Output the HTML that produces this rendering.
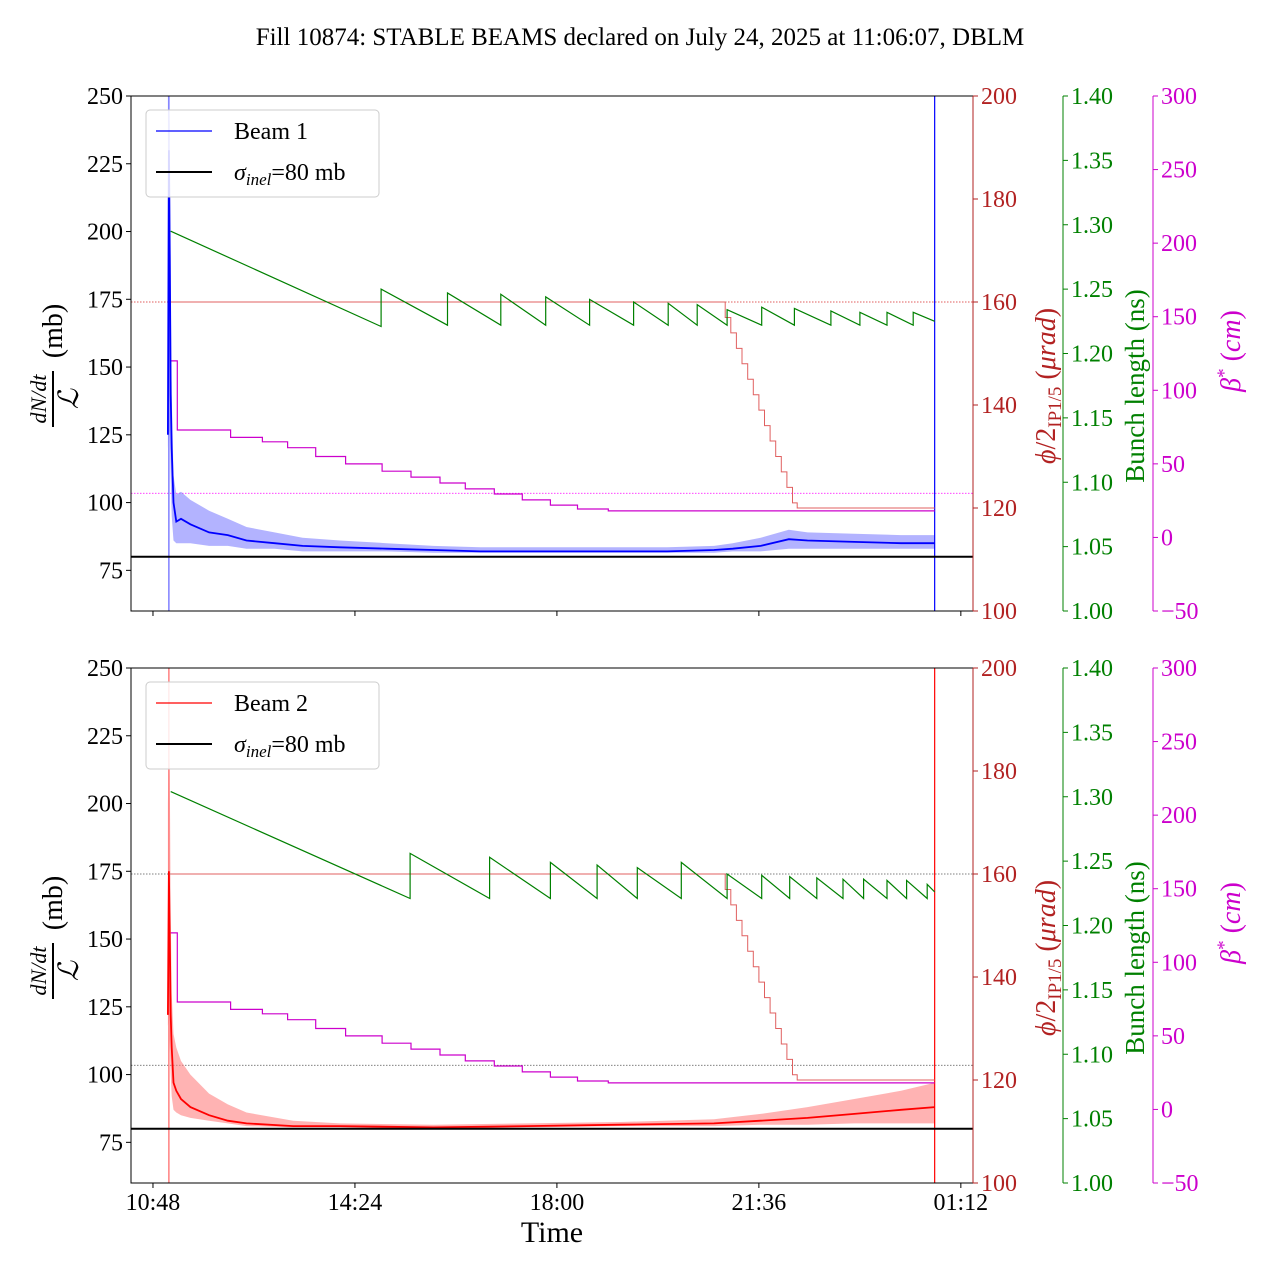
<!DOCTYPE html>
<html><head><meta charset="utf-8">
<style>
html,body{margin:0;padding:0;background:#fff;}
svg text{font-family:"Liberation Serif",serif;}
</style></head>
<body>
<svg id="chart" width="1280" height="1280" viewBox="0 0 1280 1280" xmlns="http://www.w3.org/2000/svg">
<text x="640" y="45" font-size="25" text-anchor="middle">Fill 10874: STABLE BEAMS declared on July 24, 2025 at 11:06:07, DBLM</text>
</svg>
<script>
// time in minutes since 10:48
const xTickLabels = ["10:48","14:24","18:00","21:36","01:12"];
const xTickMins = [0,216,432,648,864];
const leftTicks = [75,100,125,150,175,200,225,250];
const redTicks = [100,120,140,160,180,200];
const greenTicks = [1.00,1.05,1.10,1.15,1.20,1.25,1.30,1.35,1.40];
const magTicks = [-50,0,50,100,150,200,250,300];

// beam 1 losses: [t, mean, lo, hi]
const loss1 = [[16,125,120,250],[17,230,130,250],[18,190,125,240],[19,140,110,180],[20,120,95,140],[22,100,86,110],[25,93,85,103],[30,94,85,104],[40,92,85,101],[60,89,84,97],[80,88,84,94],[100,86,83,91],[130,85,83,89],[160,84,82,87],[200,83.5,82,86],[250,83,82,85],[300,82.5,81.5,84],[350,82,81.5,83.5],[400,82,81.5,83.5],[450,82,81.5,83.5],[500,82,81.5,83.5],[550,82,81.5,83.5],[600,82.5,81.5,84],[620,83,82,85],[650,84,82,87],[680,86.5,83,90],[700,86,83,89],[750,85.5,83,88.5],[800,85,83,88],[836,85,83,88]];
// beam 2 losses
const loss2 = [[16,122,118,200],[17,175,120,230],[18,150,110,210],[19,122,100,160],[20,110,92,130],[22,97,87,115],[25,94,86,110],[30,91,85,105],[40,88,84,100],[60,85,83,93],[80,83,82,89],[100,82,81,86],[150,81,80.5,83],[200,81,80.5,82],[300,80.5,80,81.5],[400,81,80.5,82],[500,81.5,81,82.5],[600,82,81,83.5],[650,83,81.5,85.5],[700,84,81.5,88],[750,85.5,82,91],[800,87,82,94],[836,88,82,97]];

// bunch length: [t, value] sawtooth points
const bl1 = [[19,1.295],[244,1.221],[244,1.250],[315,1.222],[315,1.247],[372,1.222],[372,1.246],[420,1.222],[420,1.244],[467,1.222],[467,1.242],[514,1.222],[514,1.240],[551,1.222],[551,1.239],[582,1.222],[582,1.238],[614,1.222],[614,1.234],[651,1.222],[651,1.236],[686,1.222],[686,1.235],[725,1.222],[725,1.233],[756,1.222],[756,1.232],[785,1.222],[785,1.232],[813,1.222],[813,1.232],[836,1.225]];
const bl2 = [[19,1.304],[275,1.221],[275,1.256],[360,1.221],[360,1.253],[425,1.221],[425,1.249],[475,1.221],[475,1.247],[518,1.221],[518,1.245],[565,1.221],[565,1.249],[614,1.221],[614,1.240],[651,1.221],[651,1.239],[681,1.221],[681,1.238],[710,1.221],[710,1.237],[738,1.221],[738,1.236],[760,1.221],[760,1.236],[785,1.221],[785,1.235],[806,1.221],[806,1.235],[828,1.221],[828,1.232],[836,1.226]];

// crossing angle steps [t, urad]
const xang = [[19,160],[606,160],[612,157],[618,154],[624,151],[630,148],[636,145],[642,142],[648,139],[654,136],[660,133],[666,130],[672,127],[678,124],[684,121],[689,120],[836,120]];
// beta* steps [t, cm]
const betaStar = [[19,120],[26,73],[83,68],[117,65],[144,61],[174,55],[206,50],[245,45],[276,41],[307,37],[334,33],[365,29.5],[395,25.5],[425,22],[454,19.3],[487,18],[836,18]];

const svg = document.getElementById('chart');
const NS = 'http://www.w3.org/2000/svg';
const X0 = 131, X1 = 973, W = X1 - X0, H = 515;
const TMIN = -23.5, TMAX = 877;
function xs(t){ return X0 + (t - TMIN) / (TMAX - TMIN) * W; }
function mk(tag, attrs, parent){
  const e = document.createElementNS(NS, tag);
  for (const k in attrs) e.setAttribute(k, attrs[k]);
  (parent || svg).appendChild(e);
  return e;
}
function stepPath(arr, ys){
  let s = '';
  arr.forEach((p, i) => { s += i ? 'H' + xs(p[0]).toFixed(1) + 'V' + ys(p[1]).toFixed(1) : 'M' + xs(p[0]).toFixed(1) + ',' + ys(p[1]).toFixed(1); });
  return s;
}

function panel(oy, idx){
  const g = mk('g', {});
  
  
  const yl = v => oy + H - (v - 60) / 190 * H;
  const yr = v => oy + H - (v - 100) / 100 * H;
  const yg = v => oy + H - (v - 1.0) / 0.4 * H;
  const ym = v => oy + H - (v + 50) / 350 * H;
  const loss = idx === 1 ? loss1 : loss2;
  const bl = idx === 1 ? bl1 : bl2;
  const col = idx === 1 ? '#0000ff' : '#ff0000';
  const light = idx === 1 ? '#8080ff' : '#ff8080';

  const clip = mk('clipPath', {id: 'clip' + idx}, g);
  mk('rect', {x: X0, y: oy, width: W, height: H}, clip);
  const pg = mk('g', {'clip-path': 'url(#clip' + idx + ')'}, g);

  const d1 = mk('line', {x1: X0, x2: X1, y1: yr(160), y2: yr(160), stroke: idx === 1 ? '#d62728' : '#555', 'stroke-width': 0.8, 'stroke-dasharray': '1.5,1.5'}, pg);
  
  
  const d2 = mk('line', {x1: X0, x2: X1, y1: ym(30), y2: ym(30), stroke: idx === 1 ? '#ff00ff' : '#555', 'stroke-width': 0.8, 'stroke-dasharray': '1.5,1.5'}, pg);
  
  

  let bp = loss.map((p, i) => (i ? 'L' : 'M') + xs(p[0]).toFixed(1) + ',' + yl(p[3]).toFixed(1)).join('');
  bp += loss.slice().reverse().map(p => 'L' + xs(p[0]).toFixed(1) + ',' + yl(p[2]).toFixed(1)).join('') + 'Z';
  const band = mk('path', {d: bp, fill: light, 'fill-opacity': 0.6, stroke: 'none'}, pg);
  
  

  const v1 = mk('line', {x1: xs(17), x2: xs(17), y1: oy, y2: oy + H, stroke: light, 'stroke-width': 1.5}, pg);
  
  
  const v2 = mk('line', {x1: xs(836), x2: xs(836), y1: oy, y2: oy + H, stroke: col, 'stroke-width': 1.2}, pg);
  
  

  const xa = mk('path', {d: stepPath(xang, yr), fill: 'none', stroke: '#e06060', 'stroke-width': 1}, pg);
  
  
  const bsl = mk('path', {d: stepPath(betaStar, ym), fill: 'none', stroke: '#cc00cc', 'stroke-width': 1.2}, pg);
  
  
  const bll = mk('path', {d: 'M' + bl.map(p => xs(p[0]).toFixed(1) + ',' + yg(p[1]).toFixed(1)).join('L'), fill: 'none', stroke: '#008000', 'stroke-width': 1.2}, pg);
  
  
  const lm = mk('path', {d: 'M' + loss.map(p => xs(p[0]).toFixed(1) + ',' + yl(p[1]).toFixed(1)).join('L'), fill: 'none', stroke: col, 'stroke-width': 1.8}, pg);
  
  
  const si = mk('line', {x1: X0, x2: X1, y1: yl(80), y2: yl(80), stroke: '#000', 'stroke-width': 2}, pg);
  
  

  mk('rect', {x: X0, y: oy, width: W, height: H, fill: 'none', stroke: '#000', 'stroke-width': 1}, g);

  leftTicks.forEach(v => {
    const y = yl(v);
    mk('line', {x1: X0 - 5, x2: X0, y1: y, y2: y, stroke: '#000'}, g);
    const t = mk('text', {x: X0 - 8, y: y + 8, 'font-size': 24, 'text-anchor': 'end'}, g);
    t.textContent = v;
    
    
  });
  xTickMins.forEach((m, i) => {
    const x = xs(m);
    mk('line', {x1: x, x2: x, y1: oy + H, y2: oy + H + 5, stroke: '#000'}, g);
    if (idx === 2) {
      const t = mk('text', {x: x, y: oy + H + 27, 'font-size': 24, 'text-anchor': 'middle'}, g);
      t.textContent = xTickLabels[i];
      
      
    }
  });
  function rAxis(sx, ticks, scale, color, fmt, name){
    mk('line', {x1: sx, x2: sx, y1: oy, y2: oy + H, stroke: color, 'stroke-width': 1}, g);
    ticks.forEach(v => {
      const y = scale(v);
      mk('line', {x1: sx, x2: sx + 5, y1: y, y2: y, stroke: color}, g);
      const t = mk('text', {x: sx + 8, y: y + 8, 'font-size': 24, fill: color}, g);
      t.textContent = fmt(v);
      
      
    });
  }
  rAxis(973, redTicks, yr, '#b22222', v => v, 'crossing-angle');
  rAxis(1063, greenTicks, yg, '#008000', v => v.toFixed(2), 'bunch-length');
  rAxis(1153, magTicks, ym, '#cc00cc', v => v < 0 ? '\u2212' + (-v) : v, 'beta-star');

  const lt = mk('g', {transform: 'translate(60,' + (oy + 265) + ') rotate(-90)'}, g);
  
  
  mk('text', {x: -38, y: -14, 'font-size': 22, 'font-style': 'italic', 'text-anchor': 'middle'}, lt).textContent = 'dN/dt';
  mk('line', {x1: -66, x2: -10, y1: -7, y2: -7, stroke: '#000', 'stroke-width': 2}, lt);
  mk('text', {x: -38, y: 18, 'font-size': 28, 'font-style': 'italic', 'text-anchor': 'middle'}, lt).textContent = 'ℒ';
  mk('text', {x: 30, y: 2, 'font-size': 28, 'text-anchor': 'middle'}, lt).textContent = '(mb)';

  const rt = mk('text', {transform: 'translate(1055,' + (oy + 290) + ') rotate(-90)', 'font-size': 28, fill: '#b22222', 'text-anchor': 'middle'}, g);
  rt.innerHTML = '<tspan font-style="italic">ϕ</tspan>/2<tspan font-size="19" dy="6">IP1/5</tspan><tspan dy="-6"> (</tspan><tspan font-style="italic">μrad</tspan>)';
  
  
  const gt = mk('text', {transform: 'translate(1144,' + (oy + 290) + ') rotate(-90)', 'font-size': 27, fill: '#008000', 'text-anchor': 'middle'}, g);
  gt.textContent = 'Bunch length (ns)';
  
  
  const mt = mk('text', {transform: 'translate(1240,' + (oy + 255) + ') rotate(-90)', 'font-size': 28, fill: '#cc00cc', 'text-anchor': 'middle'}, g);
  mt.innerHTML = '<tspan font-style="italic">β</tspan><tspan font-size="19" dy="-10">*</tspan><tspan dy="10"> (</tspan><tspan font-style="italic">cm</tspan>)';
  
  

  const lg = mk('g', {}, g);
  
  
  mk('rect', {x: 146, y: oy + 14, width: 233, height: 87, rx: 4, fill: '#fff', 'fill-opacity': 0.85, stroke: '#ccc'}, lg);
  mk('line', {x1: 156, x2: 212, y1: oy + 35, y2: oy + 35, stroke: col, 'stroke-width': 1.2}, lg);
  const l1 = mk('text', {x: 234, y: oy + 43, 'font-size': 24}, lg);
  l1.textContent = 'Beam ' + idx;
  
  
  mk('line', {x1: 156, x2: 212, y1: oy + 76, y2: oy + 76, stroke: '#000', 'stroke-width': 2}, lg);
  const l2 = mk('text', {x: 234, y: oy + 84, 'font-size': 24}, lg);
  l2.innerHTML = '<tspan font-style="italic">σ</tspan><tspan font-style="italic" font-size="17" dy="5">inel</tspan><tspan dy="-5">=80 mb</tspan>';
  
  
}
panel(96, 1);
panel(668, 2);
const xt = mk('text', {x: 552, y: 1242, 'font-size': 30, 'text-anchor': 'middle'});
xt.textContent = 'Time';


</script>
</body></html>
